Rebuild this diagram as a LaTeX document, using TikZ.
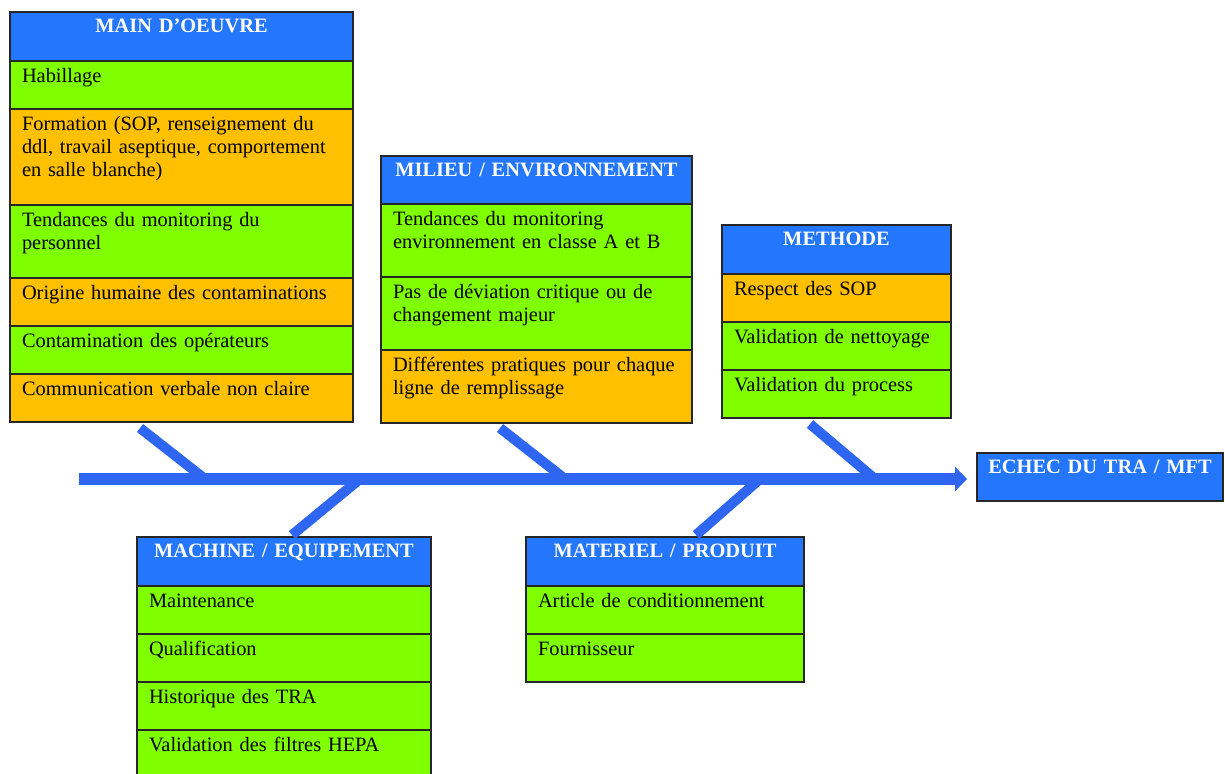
\documentclass[tikz,border=0pt]{standalone}
\usepackage{fontspec}
\setmainfont{Liberation Serif}
\usetikzlibrary{arrows.meta, positioning, calc}

\definecolor{headblue}{RGB}{36,118,252}
\definecolor{factgreen}{RGB}{128,255,0}
\definecolor{factorange}{RGB}{255,192,0}
\definecolor{boneblue}{RGB}{46,102,242}

\begin{document}
\begin{tikzpicture}[x=0.5pt, y=-0.5pt, node distance=0pt, >=Stealth]
        % Style definitions
        \tikzstyle{cell} = [draw=black!85, line width=0.6pt, rectangle, outer sep=0pt, inner xsep=6pt, inner ysep=0pt, text height=10.5pt, text depth=13.5pt, align=left, font=\fontsize{10.2}{11.7}\selectfont]
        \tikzstyle{causehead} = [cell, fill=headblue, text=white, align=center, text height=10pt, text depth=14.5pt, font=\fontsize{10.2}{11.7}\selectfont\bfseries]
        \tikzstyle{effect} = [causehead, inner xsep=3pt, text width=117pt, text depth=14pt]
        \tikzstyle{factorg} = [cell, fill=factgreen]
        \tikzstyle{factoro} = [cell, fill=factorange]
        \tikzstyle{twoline} = [text depth=26pt]
        \tikzstyle{threeline} = [text depth=37.5pt]
        \tikzstyle{bone} = [line width=5pt, boneblue]
        \tikzstyle{spine} = [line width=6pt, boneblue, -{Triangle[length=6pt, width=12pt]}]

        \path[use as bounding box, fill=white] (0,0) rectangle (1225,773);

        % Main d'oeuvre
        \begin{scope}[every node/.append style={text width=159.5pt}]
        \node [causehead, anchor=north west] (mo0) at (10,12) {MAIN D’OEUVRE};
        \node [factorg, below=of mo0] (mo1) {Habillage};
        \node [factoro, threeline, below=of mo1] (mo2) {Formation (SOP, renseignement du\\ddl, travail aseptique, comportement\\en salle blanche)};
        \node [factorg, twoline, below=of mo2] (mo3) {Tendances du monitoring du\\personnel};
        \node [factoro, below=of mo3] (mo4) {Origine humaine des contaminations};
        \node [factorg, below=of mo4] (mo5) {Contamination des opérateurs};
        \node [factoro, below=of mo5] (mo6) {Communication verbale non claire};
        \end{scope}

        % Milieu / environnement
        \begin{scope}[every node/.append style={text width=143.5pt}]
        \node [causehead, anchor=north west, text depth=14pt] (mi0) at (381,156) {MILIEU / ENVIRONNEMENT};
        \node [factorg, twoline, below=of mi0] (mi1) {Tendances du monitoring\\environnement en classe A et B};
        \node [factorg, twoline, below=of mi1] (mi2) {Pas de déviation critique ou de\\changement majeur};
        \node [factoro, twoline, below=of mi2] (mi3) {Différentes pratiques pour chaque\\ligne de remplissage};
        \end{scope}

        % Methode
        \begin{scope}[every node/.append style={text width=102.5pt}]
        \node [causehead, anchor=north west] (me0) at (722,225) {METHODE};
        \node [factoro, below=of me0] (me1) {Respect des SOP};
        \node [factorg, below=of me1] (me2) {Validation de nettoyage};
        \node [factorg, below=of me2] (me3) {Validation du process};
        \end{scope}

        % Machine / equipement
        \begin{scope}[every node/.append style={text width=135pt}]
        \node [causehead, anchor=north west] (ma0) at (137,537) {MACHINE / EQUIPEMENT};
        \node [factorg, below=of ma0] (ma1) {Maintenance};
        \node [factorg, below=of ma1] (ma2) {Qualification};
        \node [factorg, below=of ma2] (ma3) {Historique des TRA};
        \node [factorg, below=of ma3] (ma4) {Validation des filtres HEPA};
        \end{scope}

        % Materiel / produit
        \begin{scope}[every node/.append style={text width=127pt}]
        \node [causehead, anchor=north west] (mt0) at (526,537) {MATERIEL / PRODUIT};
        \node [factorg, below=of mt0] (mt1) {Article de conditionnement};
        \node [factorg, below=of mt1] (mt2) {Fournisseur};
        \end{scope}

        % Effect
        \node [effect, anchor=north west] (echec) at (977,453) {ECHEC DU TRA / MFT};

        % Spine and bones
        \coordinate (tail) at (79,479);
        \coordinate (jmo) at (205,479);
        \coordinate (jma) at (360,479);
        \coordinate (jmi) at (565,479);
        \coordinate (jmt) at (760,479);
        \coordinate (jme) at (875,479);
        \draw [bone] ($(mo6.south west)+(130,6)$) -- (jmo);
        \draw [bone] ($(mi3.south west)+(119,5)$) -- (jmi);
        \draw [bone] ($(me3.south west)+(88,6)$) -- (jme);
        \draw [bone] ($(ma0.north west)+(155,-2)$) -- (jma);
        \draw [bone] ($(mt0.north west)+(170,-2)$) -- (jmt);
        \draw [spine, shorten >=5pt] (tail) -- (tail -| echec.west);
\end{tikzpicture}
\end{document}
